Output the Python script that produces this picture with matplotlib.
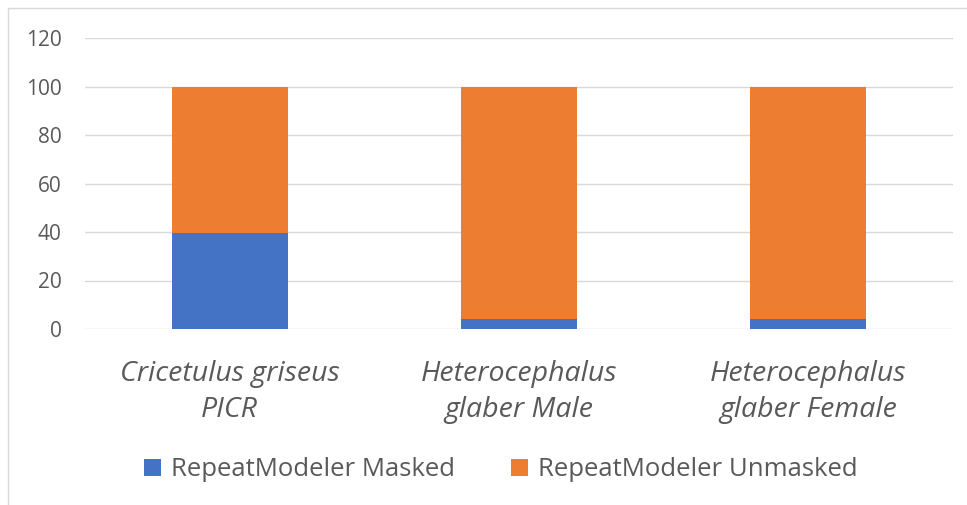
import matplotlib
matplotlib.use("Agg")
import matplotlib.pyplot as plt
from matplotlib.patches import Rectangle

categories = ["Cricetulus griseus\nPICR", "Heterocephalus\nglaber Male", "Heterocephalus\nglaber Female"]
masked = [39.4, 4.3, 4.0]
unmasked = [60.6, 95.7, 96.0]
series_names = ["RepeatModeler Masked", "RepeatModeler Unmasked"]
yticks = [0, 20, 40, 60, 80, 100, 120]

blue = "#4472C4"
orange = "#ED7D31"
txt = "#595959"
grid = "#D9D9D9"
font = ["Open Sans", "DejaVu Sans"]

fig = plt.figure(figsize=(9.67, 5.05), dpi=100)
fig.patches.append(Rectangle((8 / 967, -0.1), 1.2, 1 - 8 / 505 + 0.1, transform=fig.transFigure,
                             fill=False, edgecolor="#D9D9D9", linewidth=1.0))
ax = fig.add_axes([85 / 967, 1 - 329 / 505, 868 / 967, 291 / 505])

x = list(range(len(categories)))
ax.bar(x, masked, width=0.4, color=blue, label=series_names[0], zorder=3)
ax.bar(x, unmasked, width=0.4, bottom=masked, color=orange, label=series_names[1], zorder=3)

ax.set_xlim(-0.5, len(categories) - 0.5)
ax.set_ylim(0, 120)
ax.set_yticks(yticks)
ax.set_yticklabels([str(v) for v in yticks], fontsize=15, color=txt, family=font)
ax.yaxis.grid(True, color=grid, linewidth=1.0, zorder=0)
ax.tick_params(axis="y", length=0, pad=17)
ax.tick_params(axis="x", length=0, pad=22)
ax.set_xticks(x)
ax.set_xticklabels(categories, fontsize=20.5, color=txt, style="italic", family=font, linespacing=1.4)
for s in ax.spines.values():
    s.set_visible(False)

leg = fig.legend(loc="center", bbox_to_anchor=(501 / 967, 1 - 470 / 505), ncol=2, frameon=False,
                 prop={"family": font, "size": 18.5}, handlelength=0.65, handleheight=0.65,
                 handletextpad=0.4, columnspacing=2.2)
for t in leg.get_texts():
    t.set_color(txt)

fig.savefig("out.png", dpi=100)
